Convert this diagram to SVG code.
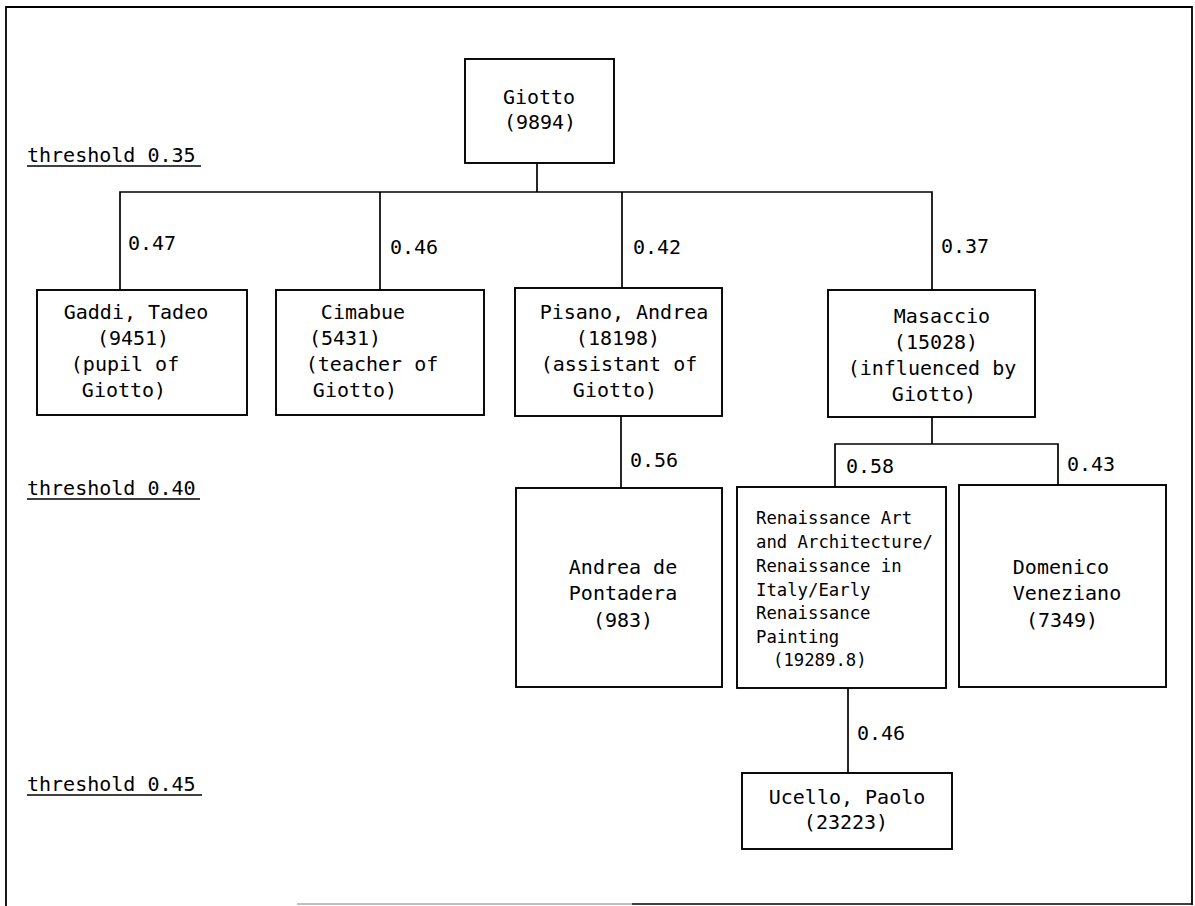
<svg xmlns="http://www.w3.org/2000/svg" width="1195" height="906" viewBox="0 0 1195 906">
<style>
  .frame { fill: none; stroke: #000; stroke-width: 1.8; }
  .box { fill: #fff; stroke: #000; stroke-width: 1.9; }
  .edge { fill: none; stroke: #000; stroke-width: 1.7; }
  text { font-family: "DejaVu Sans Mono", "Liberation Mono", monospace; font-size: 20px; fill: #000; }
  .c { text-anchor: middle; }
  .small { font-size: 17.3px; }
  .ul { stroke: #000; stroke-width: 1.6; }
</style>
<rect width="1195" height="906" fill="#fff"/>
<g id="frame">
  <path class="frame" d="M6,906 L6,7 L1192,7 L1192,905"/>
  <line x1="297" y1="904" x2="632" y2="904" stroke="#aaa" stroke-width="1.4"/>
  <line x1="632" y1="904" x2="1192" y2="904" stroke="#000" stroke-width="1.6"/>
</g>
<g id="thresholds">
  <text x="27" y="162">threshold 0.35</text>
  <line class="ul" x1="27" y1="166" x2="201" y2="166"/>
  <text x="27" y="495">threshold 0.40</text>
  <line class="ul" x1="27" y1="499" x2="200" y2="499"/>
  <text x="27" y="791">threshold 0.45</text>
  <line class="ul" x1="27" y1="795" x2="202" y2="795"/>
</g>
<g id="connectors">
  <path class="edge" d="M537,163 L537,192"/>
  <path class="edge" d="M120,290 L120,192 L932,192 L932,290"/>
  <path class="edge" d="M380,192 L380,290"/>
  <path class="edge" d="M622,192 L622,288"/>
  <path class="edge" d="M621,416 L621,488"/>
  <path class="edge" d="M932,417 L932,444"/>
  <path class="edge" d="M835,487 L835,444 L1058,444 L1058,485"/>
  <path class="edge" d="M848,688 L848,773"/>
  <text x="128" y="250">0.47</text>
  <text x="390" y="254">0.46</text>
  <text x="633" y="254">0.42</text>
  <text x="941" y="253">0.37</text>
  <text x="630" y="467">0.56</text>
  <text x="846" y="473">0.58</text>
  <text x="1067" y="471">0.43</text>
  <text x="857" y="740">0.46</text>
</g>
<g id="giotto">
  <rect class="box" x="465" y="59" width="149" height="104"/>
  <text class="c" x="539" y="104">Giotto</text>
  <text class="c" x="540" y="129">(9894)</text>
</g>
<g id="gaddi">
  <rect class="box" x="37" y="290" width="210" height="125"/>
  <text class="c" x="136" y="319">Gaddi, Tadeo</text>
  <text class="c" x="133" y="345">(9451)</text>
  <text class="c" x="125" y="371">(pupil of</text>
  <text class="c" x="124" y="397">Giotto)</text>
</g>
<g id="cimabue">
  <rect class="box" x="276" y="290" width="208" height="125"/>
  <text class="c" x="363" y="319">Cimabue</text>
  <text class="c" x="345" y="345">(5431)</text>
  <text class="c" x="372" y="371">(teacher of</text>
  <text class="c" x="355" y="397">Giotto)</text>
</g>
<g id="pisano">
  <rect class="box" x="515" y="288" width="207" height="128"/>
  <text class="c" x="624" y="319">Pisano, Andrea</text>
  <text class="c" x="618" y="345">(18198)</text>
  <text class="c" x="619" y="371">(assistant of</text>
  <text class="c" x="615" y="397">Giotto)</text>
</g>
<g id="masaccio">
  <rect class="box" x="828" y="290" width="207" height="127"/>
  <text class="c" x="942" y="323">Masaccio</text>
  <text class="c" x="936" y="349">(15028)</text>
  <text class="c" x="932" y="375">(influenced by</text>
  <text class="c" x="934" y="401">Giotto)</text>
</g>
<g id="andrea">
  <rect class="box" x="516" y="488" width="206" height="199"/>
  <text class="c" x="623" y="574">Andrea de</text>
  <text class="c" x="623" y="600">Pontadera</text>
  <text class="c" x="623" y="627">(983)</text>
</g>
<g id="renaissance">
  <rect class="box" x="737" y="487" width="209" height="201"/>
  <text class="small" x="756" y="524">Renaissance Art</text>
  <text class="small" x="756" y="548">and Architecture/</text>
  <text class="small" x="756" y="572">Renaissance in</text>
  <text class="small" x="756" y="596">Italy/Early</text>
  <text class="small" x="756" y="619">Renaissance</text>
  <text class="small" x="756" y="643">Painting</text>
  <text class="small" x="773" y="666">(19289.8)</text>
</g>
<g id="domenico">
  <rect class="box" x="959" y="485" width="207" height="202"/>
  <text class="c" x="1061" y="574">Domenico</text>
  <text class="c" x="1067" y="600">Veneziano</text>
  <text class="c" x="1062" y="627">(7349)</text>
</g>
<g id="ucello">
  <rect class="box" x="742" y="773" width="210" height="76"/>
  <text class="c" x="847" y="804">Ucello, Paolo</text>
  <text class="c" x="846" y="829">(23223)</text>
</g>
</svg>
